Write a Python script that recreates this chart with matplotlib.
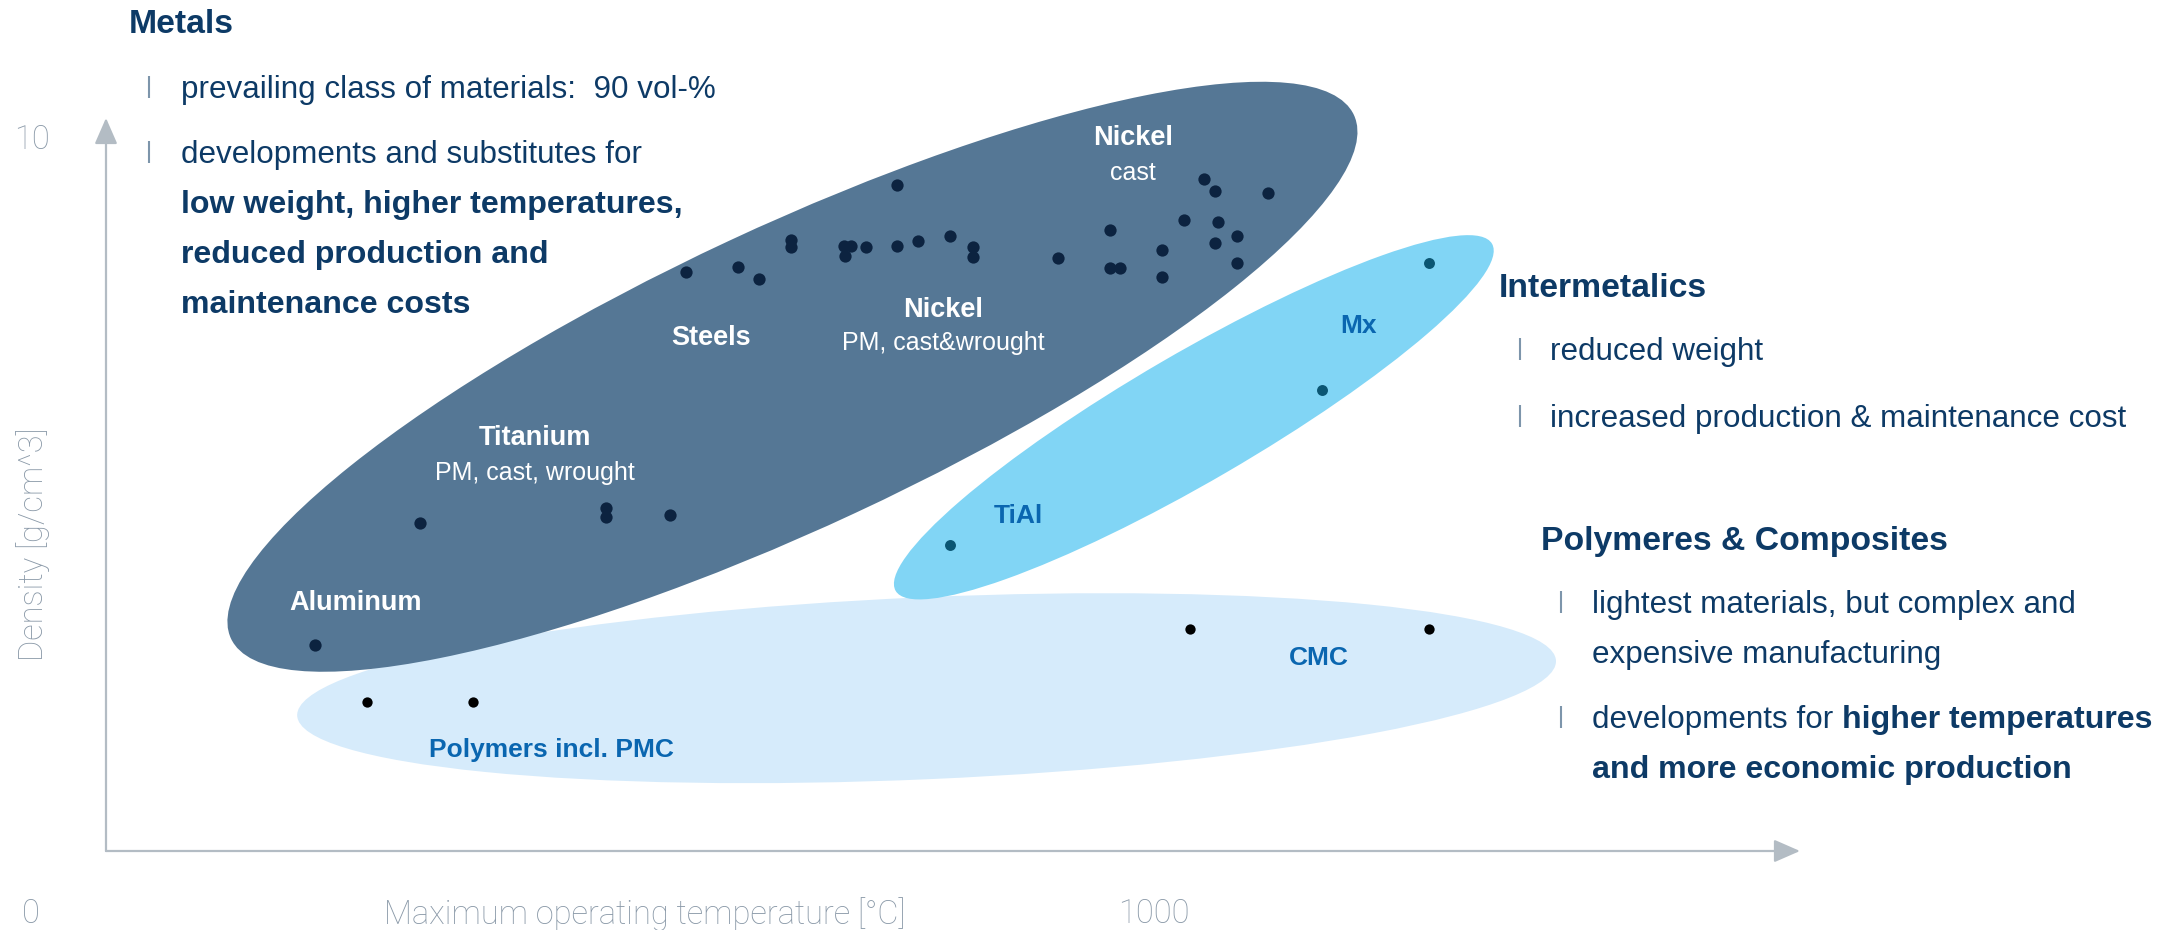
import matplotlib
matplotlib.use("Agg")
import matplotlib.pyplot as plt
from matplotlib.patches import Ellipse
from matplotlib.lines import Line2D
from matplotlib.transforms import Affine2D

# ---- data: max. operating temperature [°C] and density [g/cm^3] ----
metal_temp = [199,
              300, 477, 477, 538,
              553, 603, 623, 654, 654, 704, 705, 711, 725, 755, 755, 775, 805,
              827, 827, 908,
              958, 958, 968, 1008, 1008, 1029, 1048, 1058, 1061, 1058, 1079,
              1079, 1109]
metal_dens = [2.90,
              4.61, 4.83, 4.70, 4.73,
              8.14, 8.21, 8.04, 8.59, 8.49, 8.51, 8.37, 8.51, 8.49, 9.37, 8.51,
              8.58, 8.65, 8.50, 8.36, 8.34,
              8.73, 8.20, 8.20, 8.45, 8.08, 8.88, 9.45, 9.28, 8.84, 8.55, 8.65,
              8.27, 9.26]

inter_temp = [805, 1160, 1262]
inter_dens = [4.30, 6.49, 8.27]

poly_temp = [249, 350, 1034, 1262]
poly_dens = [2.09, 2.09, 3.12, 3.12]

# material class regions (centre in data units)
region_names = ["Polymeres & Composites", "Metals", "Intermetalics"]
region_temp = [783, 655, 1038]
region_dens = [2.29, 6.67, 6.10]

# ---- layout ----
W, H = 2181, 930
X_ORIGIN, Y_ORIGIN = 106, 851      # pixel position of (0 °C, 0 g/cm^3)
PX_PER_DEG, PX_PER_DENS = 1.048, 71.1

NAVY = "#0d3a66"
BAR = "#7d95ab"
LABEL_BLUE = "#0a66b0"
GREY = "#8a99a8"
AXIS_GREY = "#b3bcc4"
LIGHT = ["Roboto", "DejaVu Sans"]

plt.rcParams["font.family"] = ["Liberation Sans", "DejaVu Sans"]

fig = plt.figure(figsize=(W / 100, H / 100), dpi=100)
ax = fig.add_axes([0, 0, 1, 1])
ax.set_xlim(-X_ORIGIN / PX_PER_DEG, (W - X_ORIGIN) / PX_PER_DEG)
ax.set_ylim(-(H - Y_ORIGIN) / PX_PER_DENS, Y_ORIGIN / PX_PER_DENS)
ax.axis("off")

# pixel transform (origin top-left) for free text
PIX = Affine2D().scale(1, -1).translate(0, H)

# ---- regions ----
region_style = {
    "Polymeres & Composites": dict(w=1260, h=182, angle=2.5, color="#d6ebfb"),
    "Metals": dict(w=1239, h=300, angle=25, color="#557795"),
    "Intermetalics": dict(w=690, h=128, angle=30.2, color="#81d5f5"),
}
for name, t, d in zip(region_names, region_temp, region_dens):
    st = region_style[name]
    cx, cy = ax.transData.transform((t, d))
    e = Ellipse((0, 0), st["w"], st["h"], angle=st["angle"],
                facecolor=st["color"], edgecolor="none",
                transform=Affine2D().translate(cx, cy), zorder=1)
    ax.add_artist(e)

# ---- points ----
ax.scatter(metal_temp, metal_dens, s=78, color="#0c2340", zorder=3, linewidths=0)
ax.scatter(inter_temp, inter_dens, s=62, color="#0b5673", zorder=3, linewidths=0)
ax.scatter(poly_temp, poly_dens, s=55, color="#000000", zorder=3, linewidths=0)

# ---- axes arrows ----
arrow = dict(arrowstyle="-|>,head_length=0.8,head_width=0.35", color=AXIS_GREY,
             lw=1.6, shrinkA=0, shrinkB=0, mutation_scale=20)
ax.annotate("", xy=(0, (Y_ORIGIN - 118) / PX_PER_DENS), xytext=(0, 0),
            arrowprops=arrow, zorder=0)
ax.annotate("", xy=((1800 - X_ORIGIN) / PX_PER_DEG, 0), xytext=(0, 0),
            arrowprops=arrow, zorder=0)

tick_kw = dict(textcoords="offset pixels", color=GREY, fontsize=23.5,
               fontweight="light", family=LIGHT, ha="center", va="center")
ax.annotate("10", xy=(0, 10), xytext=(-74, 0), **tick_kw)
ax.annotate("0", xy=(0, 0), xytext=(-75, -63), **tick_kw)
ax.annotate("1000", xy=(1000, 0), xytext=(0, -63), **tick_kw)

fig.text(645, 914, "Maximum operating temperature [°C]", transform=PIX,
         color=GREY, fontsize=23.5, fontweight="light", family=LIGHT,
         ha="center", va="center")
fig.text(33, 544, "Density [g/cm^3]", transform=PIX, rotation=90,
         color=GREY, fontsize=23.5, fontweight="light", family=LIGHT,
         ha="center", va="center")

# ---- labels inside regions ----
white = dict(transform=PIX, color="white", ha="center", va="baseline")
fig.text(1133, 145, "Nickel", fontsize=19.5, fontweight="bold", **white)
fig.text(1133, 180, "cast", fontsize=18, **white)
fig.text(943, 317, "Nickel", fontsize=19.5, fontweight="bold", **white)
fig.text(943, 350, "PM, cast&wrought", fontsize=18, **white)
fig.text(711, 345, "Steels", fontsize=19.5, fontweight="bold", **white)
fig.text(535, 445, "Titanium", fontsize=19.5, fontweight="bold", **white)
fig.text(535, 480, "PM, cast, wrought", fontsize=18, **white)
fig.text(356, 610, "Aluminum", fontsize=19.5, fontweight="bold", **white)

blue = dict(transform=PIX, color=LABEL_BLUE, ha="center", va="baseline",
            fontsize=19, fontweight="bold")
fig.text(1359, 333, "Mx", **blue)
fig.text(1018, 523, "TiAl", **blue)
fig.text(1319, 665, "CMC", **blue)
fig.text(551, 757, "Polymers incl. PMC", **blue)

# ---- side text blocks ----
renderer = fig.canvas.get_renderer()


def head(x, y, s):
    fig.text(x, y, s, transform=PIX, color=NAVY, fontsize=24.3,
             fontweight="bold", va="baseline")


def line(x, y, parts):
    # parts: list of (text, bold)
    cur = x
    for s, bold in parts:
        t = fig.text(cur, y, s, transform=PIX, color=NAVY,
                     fontsize=23.1 if bold else 22.6,
                     fontweight="bold" if bold else "normal", va="baseline")
        cur += t.get_window_extent(renderer).width


def bar(x, y):
    # short vertical bullet bar ending on the text baseline
    fig.add_artist(Line2D([x, x], [y - 22, y], transform=PIX, color=BAR,
                          lw=1.5, solid_capstyle="butt"))


head(129, 33, "Metals")
bar(149, 98)
line(181, 98, [("prevailing class of materials:  90 vol-%", False)])
bar(149, 163)
line(181, 163, [("developments and substitutes for", False)])
line(181, 213, [("low weight, higher temperatures,", True)])
line(181, 263, [("reduced production and", True)])
line(181, 313, [("maintenance costs", True)])

head(1499, 297, "Intermetalics")
bar(1520, 360)
line(1550, 360, [("reduced weight", False)])
bar(1520, 427)
line(1550, 427, [("increased production & maintenance cost", False)])

head(1541, 550, "Polymeres & Composites")
bar(1561, 613)
line(1592, 613, [("lightest materials, but complex and", False)])
line(1592, 663, [("expensive manufacturing", False)])
bar(1561, 728)
line(1592, 728, [("developments for ", False), ("higher temperatures", True)])
line(1592, 778, [("and more economic production", True)])

fig.savefig("out.png", dpi=100, facecolor="white")
